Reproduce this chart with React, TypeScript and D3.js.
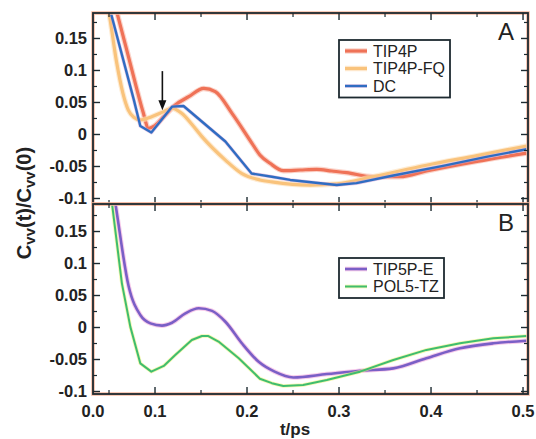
import React from "react";
import * as d3 from "d3";

// ---------- data ----------
const T_TIP4P = [0.052, 0.0587, 0.07, 0.08, 0.087, 0.093, 0.1, 0.1095, 0.122, 0.1366, 0.153, 0.1655, 0.1837, 0.2054, 0.214, 0.225, 0.2395, 0.2576, 0.2758, 0.292, 0.3084, 0.337, 0.366, 0.395, 0.45, 0.504];
const V_TIP4P = [0.225, 0.19, 0.128, 0.072, 0.035, 0.0097, 0.014, 0.028, 0.046, 0.059, 0.072, 0.067, 0.033, -0.0138, -0.032, -0.045, -0.0566, -0.0555, -0.0544, -0.057, -0.0597, -0.066, -0.066, -0.057, -0.042, -0.029];

const T_FQ = [0.045, 0.05, 0.058, 0.065, 0.071, 0.077, 0.084, 0.097, 0.1095, 0.1185, 0.129, 0.14, 0.151, 0.1765, 0.1945, 0.214, 0.227, 0.2685, 0.2975, 0.337, 0.395, 0.45, 0.504];
const V_FQ = [0.225, 0.19, 0.115, 0.065, 0.038, 0.027, 0.0227, 0.028, 0.0357, 0.041, 0.033, 0.016, -0.0034, -0.04, -0.061, -0.071, -0.074, -0.079, -0.0773, -0.066, -0.048, -0.033, -0.018];

const T_DC = [0.046, 0.052, 0.077, 0.084, 0.096, 0.1185, 0.131, 0.1765, 0.205, 0.227, 0.247, 0.2975, 0.319, 0.359, 0.413, 0.46, 0.504];
const V_DC = [0.225, 0.19, 0.054, 0.0133, 0.003, 0.0435, 0.0445, -0.011, -0.061, -0.066, -0.071, -0.079, -0.076, -0.064, -0.049, -0.035, -0.023];

const T_TIP5PE = [0.054, 0.057, 0.0714, 0.084, 0.095, 0.1076, 0.1185, 0.133, 0.1475, 0.162, 0.1765, 0.1946, 0.213, 0.23, 0.2503, 0.2867, 0.3228, 0.359, 0.395, 0.4315, 0.4677, 0.504];
const V_TIP5PE = [0.22, 0.193, 0.064, 0.0195, 0.0065, 0.003, 0.0075, 0.022, 0.03, 0.026, 0.009, -0.025, -0.054, -0.069, -0.078, -0.0727, -0.0675, -0.0638, -0.048, -0.0325, -0.0247, -0.0206];

const T_POL5 = [0.05, 0.0533, 0.064, 0.0732, 0.084, 0.096, 0.1095, 0.122, 0.14, 0.151, 0.158, 0.169, 0.191, 0.214, 0.227, 0.2395, 0.261, 0.2867, 0.3228, 0.359, 0.395, 0.4315, 0.4677, 0.504];
const V_POL5 = [0.225, 0.193, 0.069, 0.001, -0.056, -0.069, -0.06, -0.043, -0.0195, -0.0133, -0.0133, -0.022, -0.048, -0.08, -0.087, -0.0914, -0.0898, -0.082, -0.069, -0.0508, -0.035, -0.0247, -0.0169, -0.0133];

const X_TICK_VALUES = [0.0, 0.1, 0.2, 0.3, 0.4, 0.5];
const X_TICK_LABELS = ["0.0", "0.1", "0.2", "0.3", "0.4", "0.5"];
const X_MINOR = [0.05, 0.15, 0.25, 0.35, 0.45];
const Y_TICK_VALUES = [0.15, 0.1, 0.05, 0, -0.05, -0.1];
const Y_TICK_LABELS = ["0.15", "0.1", "0.05", "0", "-0.05", "-0.1"];
const Y_MINOR = [0.175, 0.125, 0.075, 0.025, -0.025, -0.075];

const ARROW_T = 0.108;
const ARROW_FROM = 0.099;
const ARROW_TO = 0.038;

const X_DOMAIN = [0.0326, 0.5054];
const Y_DOMAIN_A = [-0.1086, 0.1898];
const Y_DOMAIN_B = [-0.1039, 0.193];

// ---------- layout ----------
const W = 536, H = 439;
const LEFT = 93, RIGHT = 528;
const A_TOP = 13, A_BOT = 204;
const B_TOP = 204, B_BOT = 394;
const FONT = "'Liberation Sans', Arial, Helvetica, sans-serif";
const AXIS = "#1d2a30";

type Series = { name: string; t: number[]; v: number[]; color: string; halo: string; width: number; haloWidth: number; curve: any };

const seriesA: Series[] = [
  { name: "TIP4P", t: T_TIP4P, v: V_TIP4P, color: "#ef7257", halo: "#f9b7a6", width: 3.2, haloWidth: 5.5, curve: d3.curveMonotoneX },
  { name: "TIP4P-FQ", t: T_FQ, v: V_FQ, color: "#f9c37c", halo: "#fde0b8", width: 3.2, haloWidth: 5.5, curve: d3.curveMonotoneX },
  { name: "DC", t: T_DC, v: V_DC, color: "#2f6dc2", halo: "#d7a6d6", width: 2.4, haloWidth: 3.6, curve: d3.curveLinear },
];
const seriesB: Series[] = [
  { name: "TIP5P-E", t: T_TIP5PE, v: V_TIP5PE, color: "#7a5fc6", halo: "#f1a6dc", width: 2.6, haloWidth: 4.6, curve: d3.curveMonotoneX },
  { name: "POL5-TZ", t: T_POL5, v: V_POL5, color: "#3fbd6e", halo: "#eef27a", width: 2, haloWidth: 3.6, curve: d3.curveLinear },
];

const x = d3.scaleLinear().domain(X_DOMAIN).range([LEFT, RIGHT]);
const xLabel = d3.scaleLinear().domain(X_DOMAIN).range([LEFT, RIGHT]).clamp(true);

function Panel({ id, top, bot, domain, series, letter, legendX, legendY, legendRow, showXLabels }: any) {
  const y = d3.scaleLinear().domain(domain).range([bot, top]);
  const clipId = "clip-" + id;
  return (
    <g>
      <defs>
        <clipPath id={clipId}>
          <rect x={LEFT} y={top} width={RIGHT - LEFT} height={bot - top} />
        </clipPath>
      </defs>
      <g clipPath={`url(#${clipId})`}>
        {series.map((s: Series) => {
          const line = d3.line<number>().x((_, i) => x(s.t[i])).y((d) => y(d)).curve(s.curve);
          const p = line(s.v) || "";
          return (
            <g key={s.name}>
              <path d={p} fill="none" stroke={s.halo} strokeWidth={s.haloWidth} strokeOpacity={0.6} strokeLinejoin="round" />
              <path d={p} fill="none" stroke={s.color} strokeWidth={s.width} strokeLinejoin="round" />
            </g>
          );
        })}
      </g>
      {/* frame */}
      <rect x={LEFT} y={top} width={RIGHT - LEFT} height={bot - top} fill="none" stroke="#f6b9a0" strokeWidth={3.5} />
      <rect x={LEFT} y={top} width={RIGHT - LEFT} height={bot - top} fill="none" stroke={AXIS} strokeWidth={1.8} />
      {/* x ticks */}
      {X_TICK_VALUES.filter((v) => x(v) > LEFT + 2).map((v) => (
        <g key={"xt" + v}>
          <line x1={x(v)} x2={x(v)} y1={bot} y2={bot - 7} stroke={AXIS} strokeWidth={1.4} />
          <line x1={x(v)} x2={x(v)} y1={top} y2={top + 7} stroke={AXIS} strokeWidth={1.4} />
        </g>
      ))}
      {X_MINOR.map((v) => (
        <g key={"xm" + v}>
          <line x1={x(v)} x2={x(v)} y1={bot} y2={bot - 4} stroke={AXIS} strokeWidth={1.2} />
          <line x1={x(v)} x2={x(v)} y1={top} y2={top + 4} stroke={AXIS} strokeWidth={1.2} />
        </g>
      ))}
      {/* y ticks */}
      {Y_TICK_VALUES.map((v) => (
        <g key={"yt" + v}>
          <line x1={LEFT} x2={LEFT + 7} y1={y(v)} y2={y(v)} stroke={AXIS} strokeWidth={1.4} />
          <line x1={RIGHT} x2={RIGHT - 7} y1={y(v)} y2={y(v)} stroke={AXIS} strokeWidth={1.4} />
        </g>
      ))}
      {Y_MINOR.map((v) => (
        <g key={"ym" + v}>
          <line x1={LEFT} x2={LEFT + 4} y1={y(v)} y2={y(v)} stroke={AXIS} strokeWidth={1.2} />
          <line x1={RIGHT} x2={RIGHT - 4} y1={y(v)} y2={y(v)} stroke={AXIS} strokeWidth={1.2} />
        </g>
      ))}
      {Y_TICK_VALUES.map((v, i) => (
        <text key={"yl" + v} x={87} y={y(v)} dy="0.36em" textAnchor="end" fontFamily={FONT} fontWeight="bold" fontSize={16.5} fill="#222">
          {Y_TICK_LABELS[i]}
        </text>
      ))}
      {showXLabels &&
        X_TICK_VALUES.map((v, i) => (
          <text key={"xl" + v} x={xLabel(v)} y={417} textAnchor="middle" fontFamily={FONT} fontWeight="bold" fontSize={16.5} fill="#222">
            {X_TICK_LABELS[i]}
          </text>
        ))}
      {/* panel letter */}
      <text x={514} y={top + 27} textAnchor="end" fontFamily={FONT} fontSize={24} fill="#222">
        {letter}
      </text>
      {/* legend */}
      <rect x={legendX} y={legendY} width={series.length === 3 ? 111 : 105} height={legendRow * series.length + 5} fill="white" stroke={AXIS} strokeWidth={1.8} />
      {series.map((s: Series, i: number) => {
        const cy = legendY + 11 + i * legendRow;
        return (
          <g key={"lg" + s.name}>
            <line x1={legendX + 6} x2={legendX + 28} y1={cy} y2={cy} stroke={s.halo} strokeWidth={s.haloWidth} strokeOpacity={0.6} />
            <line x1={legendX + 6} x2={legendX + 28} y1={cy} y2={cy} stroke={s.color} strokeWidth={s.width} />
            <text x={legendX + 34} y={cy} dy="0.36em" fontFamily={FONT} fontSize={16} fill="#222">
              {s.name}
            </text>
          </g>
        );
      })}
      {id === "A" && (
        <g>
          <line x1={x(ARROW_T)} x2={x(ARROW_T)} y1={y(ARROW_FROM)} y2={y(ARROW_TO) - 8} stroke="#111" strokeWidth={1.6} />
          <path
            d={`M${x(ARROW_T) - 4},${y(ARROW_TO) - 10} L${x(ARROW_T) + 4},${y(ARROW_TO) - 10} L${x(ARROW_T)},${y(ARROW_TO)} Z`}
            fill="#111"
          />
        </g>
      )}
    </g>
  );
}

export default function App() {
  return (
    <svg width={W} height={H} style={{ position: "absolute", left: 0, top: 0, background: "white" }}>
      <rect x={0} y={0} width={W} height={H} fill="white" />
      <Panel id="A" top={A_TOP} bot={A_BOT} domain={Y_DOMAIN_A} series={seriesA} letter="A" legendX={339} legendY={40} legendRow={17.5} showXLabels={false} />
      <Panel id="B" top={B_TOP} bot={B_BOT} domain={Y_DOMAIN_B} series={seriesB} letter="B" legendX={339} legendY={258} legendRow={17.5} showXLabels={true} />
      <text x={295} y={435} textAnchor="middle" fontFamily={FONT} fontWeight="bold" fontSize={17} fill="#222">
        t/ps
      </text>
      <text transform="translate(31,203) rotate(-90)" textAnchor="middle" fontFamily={FONT} fontWeight="bold" fontSize={20} fill="#222">
        C<tspan fontSize={15} dy={4}>vv</tspan>
        <tspan dy={-4}>(t)/C</tspan>
        <tspan fontSize={15} dy={4}>vv</tspan>
        <tspan dy={-4}>(0)</tspan>
      </text>
    </svg>
  );
}
